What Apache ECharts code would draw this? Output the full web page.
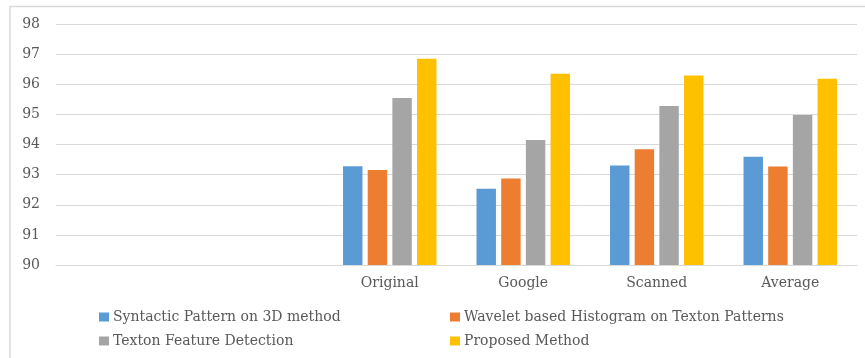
<!DOCTYPE html>
<html>
<head>
<meta charset="utf-8">
<script src="https://cdn.jsdelivr.net/npm/echarts@6/dist/echarts.min.js"></script>
<style>
  html, body { margin: 0; padding: 0; background: #fff; }
  #chart { width: 865px; height: 358px; }
</style>
</head>
<body>
<div id="chart"></div>
<script>
// first two slots are empty in the original chart
const categories = ['', '', 'Original', 'Google', 'Scanned', 'Average'];
const syntactic = [null, null, 93.28, 92.53, 93.30, 93.59];
const wavelet = [null, null, 93.15, 92.87, 93.84, 93.27];
const texton = [null, null, 95.54, 94.15, 95.28, 94.98];
const proposed = [null, null, 96.85, 96.35, 96.29, 96.18];
const seriesNames = [
  'Syntactic Pattern on 3D method',
  'Wavelet based Histogram on Texton Patterns',
  'Texton Feature Detection',
  'Proposed Method',
];
const colors = ['#5B9BD5', '#ED7D31', '#A5A5A5', '#FFC000'];

const FONT = 'DejaVu Serif';
const TEXT = '#595959';
const GRID = '#d9d9d9';

const chart = echarts.init(document.getElementById('chart'));

const makeBar = (name, data, i) => ({
  name,
  type: 'bar',
  data,
  barGap: '27%',
  barCategoryGap: '30%',
  itemStyle: { color: colors[i] },
});

const legendStyle = {
  orient: 'vertical',
  top: 305,
  padding: 0,
  itemWidth: 10,
  itemHeight: 9,
  itemGap: 10,
  icon: 'rect',
  textStyle: { fontFamily: FONT, fontSize: 14, color: TEXT, padding: [0, 0, 0, -1] },
};

chart.setOption({
  animation: false,
  color: colors,
  legend: [
    { ...legendStyle, left: 99, top: 310, data: [seriesNames[0], seriesNames[2]] },
    { ...legendStyle, left: 450, top: 310, data: [seriesNames[1], seriesNames[3]] },
  ],
  grid: { left: 56, right: 8, top: 24, bottom: 93 },
  xAxis: {
    type: 'category',
    data: categories,
    axisTick: { show: false },
    axisLine: { lineStyle: { color: GRID, width: 1 } },
    axisLabel: { fontFamily: FONT, fontSize: 14, color: TEXT, margin: 11 },
  },
  yAxis: {
    type: 'value',
    min: 90,
    max: 98,
    interval: 1,
    axisLine: { show: false },
    axisTick: { show: false },
    splitLine: { lineStyle: { color: GRID, width: 1 } },
    axisLabel: { fontFamily: FONT, fontSize: 14, color: TEXT, margin: 16 },
  },
  graphic: [
    {
      type: 'polyline',
      shape: { points: [[10, 358], [10, 6.5], [865, 6.5]] },
      style: { stroke: GRID, lineWidth: 1.5, fill: null },
    },
  ],
  series: [
    makeBar(seriesNames[0], syntactic, 0),
    makeBar(seriesNames[1], wavelet, 1),
    makeBar(seriesNames[2], texton, 2),
    makeBar(seriesNames[3], proposed, 3),
  ],
});
</script>
</body>
</html>
